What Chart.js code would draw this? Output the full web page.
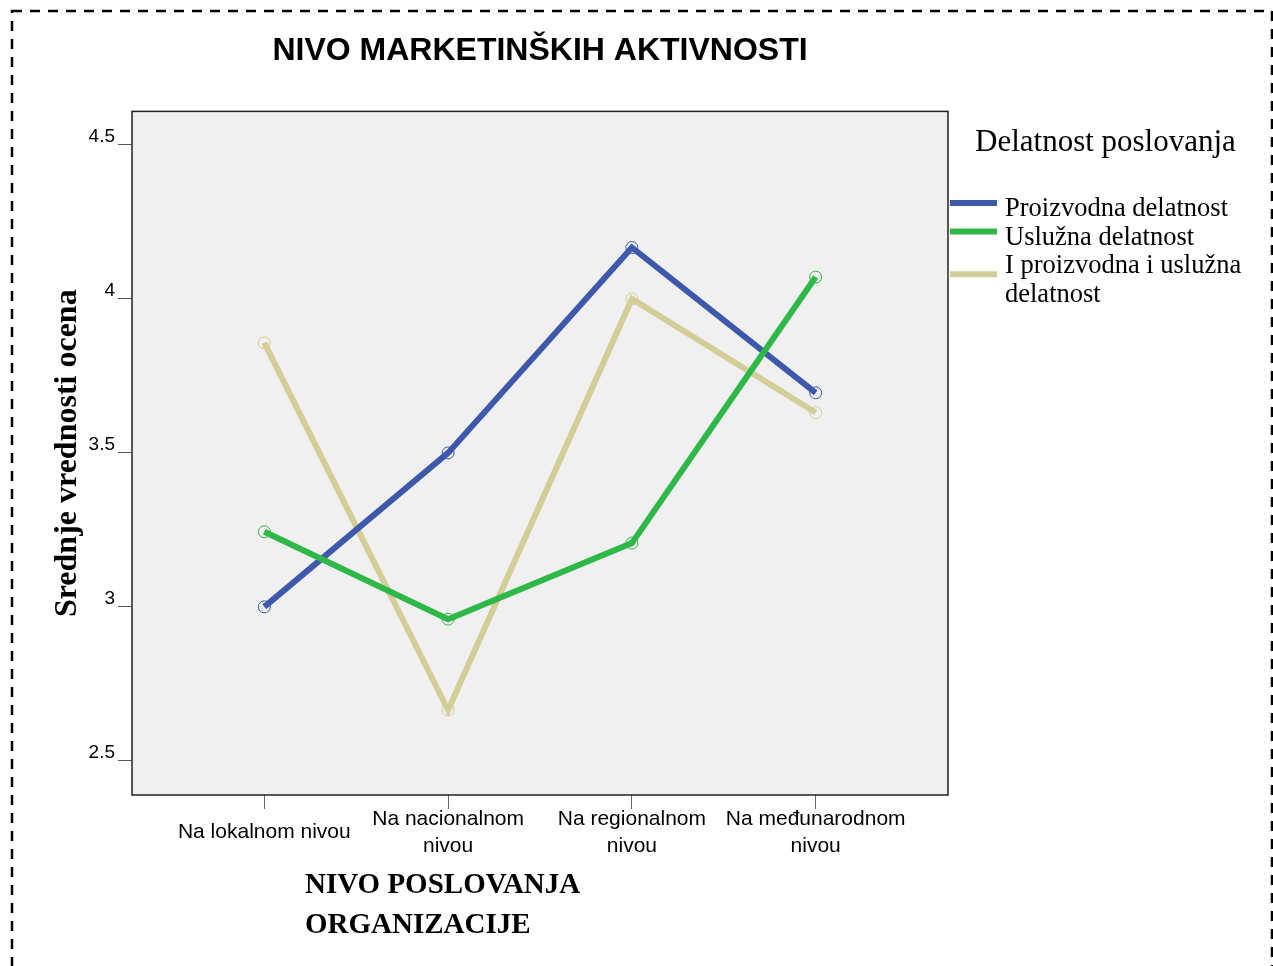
<!DOCTYPE html>
<html>
<head>
<meta charset="utf-8">
<script src="https://cdn.jsdelivr.net/npm/chart.js@4.4.1/dist/chart.umd.min.js"></script>
<style>
  html, body { margin: 0; padding: 0; background: #fff; }
  #wrap { width: 1273px; height: 966px; }
</style>
</head>
<body>
<div id="wrap"><canvas id="plot" width="1273" height="966"></canvas></div>
<script>
// categories (x axis), one label line per array entry
const levels = [
  ['Na lokalnom nivou'],
  ['Na nacionalnom', 'nivou'],
  ['Na regionalnom', 'nivou'],
  ['Na međunarodnom', 'nivou']
];
const seriesNames = ['Proizvodna delatnost', 'Uslužna delatnost', 'I proizvodna i uslužna delatnost'];
// mean scores per level
const proizvodna = [3.00, 3.50, 4.167, 3.695];
const usluzna    = [3.244, 2.960, 3.207, 4.071];
const oboje      = [3.857, 2.665, 4.00, 3.631];
const yTicks = [2.5, 3, 3.5, 4, 4.5];

const chartTitle = 'NIVO MARKETINŠKIH AKTIVNOSTI';
const yTitle = 'Srednje vrednosti ocena';
const xTitle = ['NIVO POSLOVANJA', 'ORGANIZACIJE'];
const legendTitle = 'Delatnost poslovanja';

const colors = ['#3e58ac', '#2eb848', '#d3ce97'];
const SANS = 'Liberation Sans, Arial, sans-serif';
const SERIF = 'Liberation Serif, Times New Roman, serif';

function series(values, i, order) {
    return {
        label: seriesNames[i],
        data: values.map((v, k) => ({ x: k, y: v })),
        borderColor: colors[i],
        borderWidth: 6,
        pointRadius: 6,
        pointBorderWidth: 1,
        pointBorderColor: colors[i],
        pointBackgroundColor: 'rgba(0,0,0,0)',
        tension: 0,
        order: order
    };
}

// page frame, plot background/border, x title and the legend on the right
const decor = {
    id: 'decor',
    beforeDraw(chart) {
        const { ctx, chartArea: a } = chart;
        ctx.save();
        ctx.fillStyle = '#fff';
        ctx.fillRect(0, 0, chart.width, chart.height);
        ctx.strokeStyle = '#000';
        ctx.lineWidth = 2.5;
        ctx.setLineDash([10, 8]);
        ctx.strokeRect(12, 11, 1260, 1000);
        ctx.setLineDash([]);
        ctx.fillStyle = '#f0f0f0';
        ctx.fillRect(a.left, a.top, a.right - a.left, a.bottom - a.top);
        ctx.restore();
    },
    afterDatasetsDraw(chart) {
        const { ctx, chartArea: a } = chart;
        ctx.save();
        ctx.strokeStyle = '#222';
        ctx.lineWidth = 1.5;
        ctx.strokeRect(a.left, a.top, a.right - a.left, a.bottom - a.top);
        ctx.restore();
    },
    afterDraw(chart) {
        const { ctx, chartArea: a } = chart;
        ctx.save();
        ctx.fillStyle = '#000';
        ctx.textAlign = 'left';
        ctx.textBaseline = 'alphabetic';

        // x axis title, left aligned under the second category
        ctx.font = 'bold 29px ' + SERIF;
        xTitle.forEach((t, i) => ctx.fillText(t, a.left + 173, 893 + i * 40));

        // legend
        ctx.font = '31px ' + SERIF;
        ctx.fillText(legendTitle, a.right + 27, 151);
        ctx.font = '26.5px ' + SERIF;
        let base = 216;
        const step = 28.5;
        chart.data.datasets.forEach((ds) => {
            const words = ds.label.split(' ');
            const lines = [];
            let cur = '';
            words.forEach(w => {
                const test = cur ? cur + ' ' + w : w;
                if (cur && ctx.measureText(test).width > 255) {
                    lines.push(cur);
                    cur = w;
                } else {
                    cur = test;
                }
            });
            lines.push(cur);
            const mid = base + (lines.length - 1) * step / 2 - 13;
            ctx.strokeStyle = ds.borderColor;
            ctx.lineWidth = 6;
            ctx.beginPath();
            ctx.moveTo(a.right + 2, mid);
            ctx.lineTo(a.right + 49, mid);
            ctx.stroke();
            lines.forEach((l, k) => ctx.fillText(l, a.right + 57, base + k * step));
            base += lines.length * step;
        });
        ctx.restore();
    }
};

new Chart(document.getElementById('plot'), {
    type: 'line',
    data: {
        datasets: [
            series(proizvodna, 0, 1),
            series(usluzna, 1, 0),
            series(oboje, 2, 2)
        ]
    },
    options: {
        responsive: false,
        animation: false,
        devicePixelRatio: 1,
        layout: { padding: { left: 0, right: 325, top: 0, bottom: 0 } },
        plugins: {
            legend: { display: false },
            tooltip: { enabled: false },
            title: {
                display: true,
                text: chartTitle,
                fullSize: false,
                color: '#000',
                font: { family: SANS, size: 32, weight: 'bold', lineHeight: 1.2 },
                padding: { top: 32, bottom: 41 }
            }
        },
        scales: {
            x: {
                type: 'linear',
                min: -0.72,
                max: 3.72,
                afterBuildTicks: (scale) => {
                    scale.ticks = levels.map((_, i) => ({ value: i }));
                },
                afterFit: (scale) => { scale.height = 171; },
                grid: { drawOnChartArea: false, drawTicks: true, tickLength: 14, color: '#666' },
                border: { display: false },
                ticks: {
                    autoSkip: false,
                    maxRotation: 0,
                    minRotation: 0,
                    crossAlign: 'center',
                    padding: 10,
                    color: '#000',
                    font: { family: SANS, size: 21, lineHeight: 1.29 },
                    callback: (v) => levels[v] || ''
                }
            },
            y: {
                min: 2.389,
                max: 4.609,
                afterBuildTicks: (scale) => {
                    scale.ticks = yTicks.map(v => ({ value: v }));
                },
                afterFit: (scale) => { scale.width = 132; },
                grid: { drawOnChartArea: false, drawTicks: true, tickLength: 14, color: '#555' },
                border: { display: false },
                ticks: {
                    padding: 3,
                    labelOffset: -8,
                    color: '#000',
                    font: { family: SANS, size: 19 },
                    callback: (v) => String(v)
                },
                title: {
                    display: true,
                    text: yTitle,
                    color: '#000',
                    font: { family: SERIF, size: 32, weight: 'bold', lineHeight: 1.2 },
                    padding: { top: 49, bottom: 0 }
                }
            }
        }
    },
    plugins: [decor]
});
</script>
</body>
</html>
